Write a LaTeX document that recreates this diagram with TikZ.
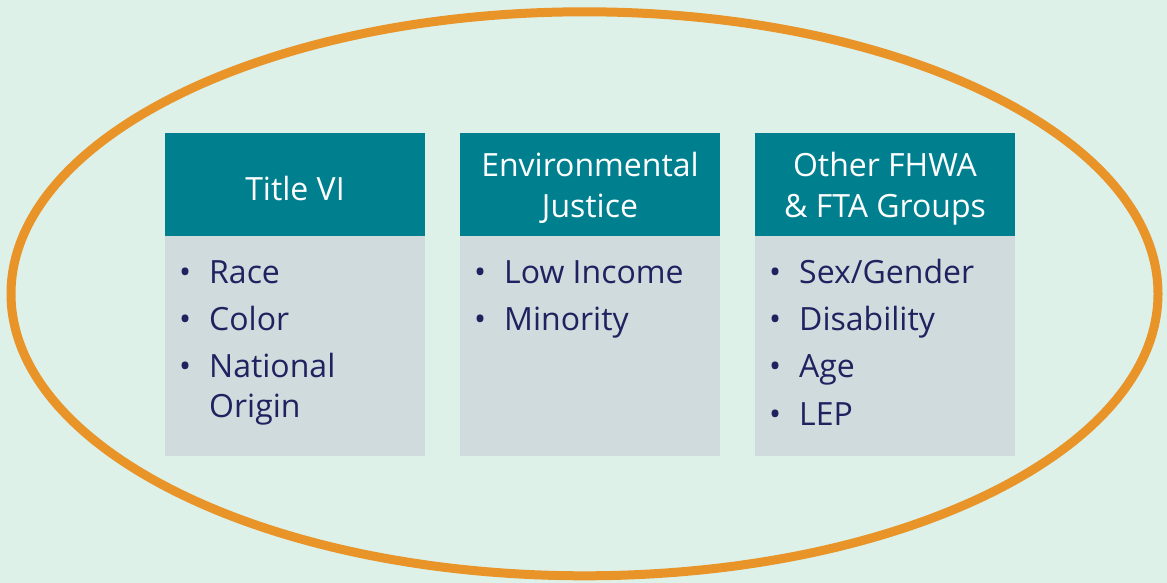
\documentclass[tikz,border=0pt]{standalone}
\usepackage{fontspec}
\setmainfont{Open Sans}
\definecolor{bgc}{RGB}{221,241,233}
\definecolor{ring}{RGB}{232,148,40}
\definecolor{teal}{RGB}{0,128,143}
\definecolor{bodyc}{RGB}{207,219,220}
\definecolor{navy}{RGB}{32,34,96}
\tikzset{
  head/.style={fill=teal, minimum width=260pt, minimum height=103pt, inner sep=0pt},
  headtxt/.style={text=white, inner sep=0pt, align=center, yshift=-4pt, font=\fontsize{32}{41}\selectfont},
  bodybox/.style={fill=bodyc, minimum width=260pt, minimum height=220pt, inner sep=0pt, anchor=north},
  itm/.style={anchor=base west, inner sep=0pt, text=navy, font=\fontsize{32}{40}\selectfont},
}
\newcommand{\bul}{\makebox[29pt][l]{\hspace{-1pt}•}}
\begin{document}
\begin{tikzpicture}[x=1pt,y=-1pt]
\fill[bgc] (0,0) rectangle (1167,583);
\useasboundingbox (0,0) rectangle (1167,583);
\draw[ring, line width=9pt] (584.5,293.8) ellipse [x radius=573.5, y radius=282];
% box 1
\node[head] (h1) at (295,184.2) {};
\node[headtxt] (t1) at (h1.center) {Title VI};
\node[bodybox] (b1) at (h1.south) {};
\node[itm] (i11) at (180,283) {\bul Race};
\node[itm] (i12) at (180,330) {\bul Color};
\node[itm] (i13) at (180,377) {\bul National};
\node[itm] (i14) at (209,417) {Origin};
% box 2
\node[head] (h2) at (590,184.2) {};
\node[headtxt] (t2) at (h2.center) {Environmental\\Justice};
\node[bodybox] (b2) at (h2.south) {};
\node[itm] (i21) at (475,283) {\bul Low Income};
\node[itm] (i22) at (475,330) {\bul Minority};
% box 3
\node[head] (h3) at (885,184.2) {};
\node[headtxt] (t3) at (h3.center) {Other FHWA\\\& FTA Groups};
\node[bodybox] (b3) at (h3.south) {};
\node[itm] (i31) at (770,283) {\bul Sex/Gender};
\node[itm] (i32) at (770,330) {\bul Disability};
\node[itm] (i33) at (770,377) {\bul Age};
\node[itm] (i34) at (770,425) {\bul LEP};
\end{tikzpicture}
\end{document}
